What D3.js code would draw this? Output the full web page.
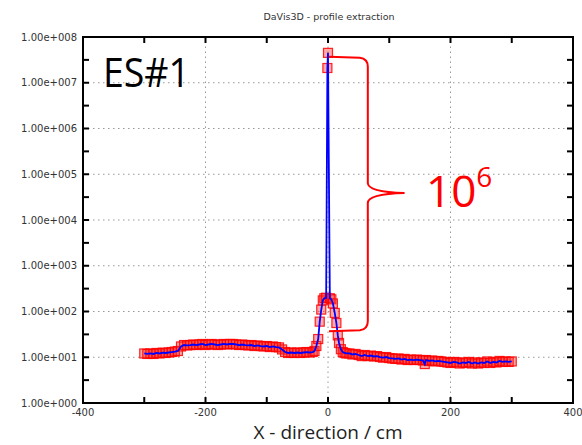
<!DOCTYPE html>
<html lang="en">
<head>
    <meta charset="UTF-8">
    <title>DaVis3D - profile extraction</title>
    <script src="https://d3js.org/d3.v7.min.js"></script>
    <style>
        * { margin: 0; padding: 0; box-sizing: border-box; }
        body { background: #fff; font-family: "DejaVu Sans", sans-serif; }
        .grid line { stroke: #999; stroke-width: 1; stroke-dasharray: 1.5 3.5; }
        .frame { fill: none; stroke: #000; stroke-width: 2; }
        .tick-label { font-size: 10px; fill: #333; }
    </style>
</head>
<body>
    <svg id="chart" width="582" height="445"></svg>
    <script>
        // profile position (cm)
        const positions = [
            -300, -295, -290, -285, -280, -275, -270, -265, -260, -255, -250, -245,
            -240, -235, -230, -225, -220, -215, -210, -205, -200, -195, -190, -185,
            -180, -175, -170, -165, -160, -155, -150, -145, -140, -135, -130, -125,
            -120, -115, -110, -105, -100, -95, -90, -85, -80, -75, -70, -65,
            -60, -55, -50, -45, -40, -35, -30, -25, -22, -19, -16, -13.5,
            -11, -8.5, -6, -3, -1, 0, 3, 5.5, 8, 11, 13.7, 16,
            18, 21, 24, 27, 30, 35, 40, 45, 50, 55, 60, 65,
            70, 75, 80, 85, 90, 95, 100, 105, 110, 115, 120, 125,
            130, 135, 140, 145, 150, 155, 158, 160, 165, 170, 175, 180,
            185, 190, 195, 200, 205, 210, 215, 220, 225, 230, 235, 240,
            245, 250, 255, 260, 265, 270, 275, 280, 285, 290, 295, 300
        ];
        // intensity (counts)
        const intensity = [
            12.1, 11.8, 12.1, 11.8, 12.4, 12.1, 12.6, 12.4, 12.7, 13.0, 13.3, 13.7,
            17.2, 18.5, 18.1, 18.5, 19.0, 18.5, 19.0, 19.5, 18.5, 19.0, 19.5, 19.0,
            18.5, 19.0, 19.5, 19.0, 19.5, 19.5, 19.0, 18.5, 19.0, 18.5, 18.1, 18.5,
            17.6, 18.1, 17.6, 17.2, 17.6, 16.7, 17.2, 16.7, 16.4, 14.8, 13.0, 12.4,
            12.7, 12.4, 12.7, 12.4, 12.7, 13.0, 12.7, 13.0, 13.7, 17.6, 25, 60,
            110, 175, 195, 200, 2.1e7, 4.5e7, 195, 185, 150, 93, 56, 30,
            20.5, 15, 13, 12.4, 12.1, 12.1, 11.5, 11.8, 11.2, 10.6, 11.2, 10.6,
            10.9, 10.4, 10.6, 10.1, 9.8, 10.1, 9.6, 9.4, 9.2, 9.4, 8.9, 9.2,
            8.7, 8.9, 8.7, 8.9, 8.7, 8.5, 7.1, 8.7, 8.3, 8.5, 8.1, 8.3,
            8.1, 7.9, 7.7, 7.5, 7.9, 7.7, 7.3, 7.7, 7.5, 7.9, 7.3, 7.7,
            7.3, 7.7, 7.5, 8.1, 7.5, 7.9, 7.7, 8.3, 7.9, 8.1, 7.9, 8.1
        ];

        const xTicks = [-400, -300, -200, -100, 0, 100, 200, 300, 400];
        const xTickLabels = [-400, -200, 0, 200, 400];
        const xGrid = [-200, 0, 200];
        const yDecades = [1e0, 1e1, 1e2, 1e3, 1e4, 1e5, 1e6, 1e7, 1e8];
        const yTickLabels = ["1.00e+000", "1.00e+001", "1.00e+002", "1.00e+003", "1.00e+004",
                             "1.00e+005", "1.00e+006", "1.00e+007", "1.00e+008"];
        const yGrid = [1e1, 1e2, 1e3, 1e4, 1e5, 1e6, 1e7];

        const data = positions.map((p, i) => ({ x: p, y: intensity[i] }));

        const svg = d3.select("#chart");
        const margin = { top: 37, right: 9, bottom: 42, left: 83 };
        const W = 582, H = 445;

        const x = d3.scaleLinear().domain([-400, 400]).range([margin.left, W - margin.right]);
        const y = d3.scaleLog().domain([1, 1e8]).range([H - margin.bottom, margin.top]);

        // title
        svg.append("text")
            .attr("x", x(0) + 1).attr("y", 20)
            .attr("text-anchor", "middle")
            .attr("font-size", 9.5).attr("fill", "#333")
            .text("DaVis3D - profile extraction");

        // grid
        const grid = svg.append("g").attr("class", "grid");
        grid.selectAll(".gy").data(yGrid).join("line")
            .attr("x1", x(-400)).attr("x2", x(400))
            .attr("y1", d => y(d)).attr("y2", d => y(d));
        grid.selectAll(".gx").data(xGrid).join("line")
            .attr("class", "gx")
            .attr("x1", d => x(d)).attr("x2", d => x(d))
            .attr("y1", y(1)).attr("y2", y(1e8));

        // ticks (inward) on all four sides
        const tk = svg.append("g").attr("stroke", "#000").attr("stroke-width", 2);
        tk.selectAll(".tb").data(xTicks).join("line").attr("class", "tb")
            .attr("x1", d => x(d)).attr("x2", d => x(d))
            .attr("y1", y(1)).attr("y2", y(1) - 6);
        tk.selectAll(".tt").data(xTicks).join("line").attr("class", "tt")
            .attr("x1", d => x(d)).attr("x2", d => x(d))
            .attr("y1", y(1e8)).attr("y2", y(1e8) + 6);
        const yMinor = yDecades.slice(0, -1).map(d => d * Math.sqrt(10));
        const yAll = yDecades.concat(yMinor);
        tk.selectAll(".tl").data(yAll).join("line").attr("class", "tl")
            .attr("x1", x(-400)).attr("x2", x(-400) + 6)
            .attr("y1", d => y(d)).attr("y2", d => y(d));
        tk.selectAll(".tr").data(yAll).join("line").attr("class", "tr")
            .attr("x1", x(400)).attr("x2", x(400) - 6)
            .attr("y1", d => y(d)).attr("y2", d => y(d));

        // frame
        svg.append("rect").attr("class", "frame")
            .attr("x", x(-400)).attr("y", y(1e8))
            .attr("width", x(400) - x(-400)).attr("height", y(1) - y(1e8));

        // tick labels
        svg.selectAll(".xl").data(xTickLabels).join("text")
            .attr("class", "tick-label")
            .attr("x", d => x(d)).attr("y", y(1) + 13)
            .attr("text-anchor", "middle")
            .text(d => d);
        svg.selectAll(".yl").data(yDecades).join("text")
            .attr("class", "tick-label")
            .attr("x", x(-400) - 6).attr("y", d => y(d) + 3.5)
            .attr("text-anchor", "end")
            .text((d, i) => yTickLabels[i]);

        // markers
        svg.append("g").selectAll("rect").data(data).join("rect")
            .attr("x", d => x(d.x) - 4.5).attr("y", d => y(d.y) - 4.5)
            .attr("width", 9).attr("height", 9)
            .attr("fill", "rgba(255,40,40,0.4)")
            .attr("stroke", "rgba(255,0,0,0.85)")
            .attr("stroke-width", 1.2);

        // profile line
        svg.append("path").datum(data)
            .attr("fill", "none").attr("stroke", "#0000ff").attr("stroke-width", 1.8)
            .attr("d", d3.line().x(d => x(d.x)).y(d => y(d.y)));

        // brace marking the peak-to-shoulder ratio
        const bx = x(0) + 1, bv = x(65), tipX = x(125);
        const yt = y(4.5e7) + 4, yb = y(37), ym = y(3.9e4);
        const brace = d3.path();
        brace.moveTo(bx, yt);
        brace.lineTo(bv - 8, yt + 1);
        brace.quadraticCurveTo(bv, yt + 2, bv, yt + 10);
        brace.lineTo(bv, ym - 10);
        brace.quadraticCurveTo(bv, ym - 1, tipX, ym);
        brace.quadraticCurveTo(bv, ym + 1, bv, ym + 10);
        brace.lineTo(bv, yb - 10);
        brace.quadraticCurveTo(bv, yb - 2, bv - 8, yb - 1);
        brace.lineTo(bx, yb);
        svg.append("path").attr("d", brace.toString())
            .attr("fill", "none").attr("stroke", "#ff0000").attr("stroke-width", 2);

        // annotations
        const ann = svg.append("text")
            .attr("x", x(160)).attr("y", y(3.9e4) + 14)
            .attr("font-family", "'Open Sans', sans-serif")
            .attr("font-size", 44).attr("fill", "#ff0000");
        ann.append("tspan").text("10");
        ann.append("tspan").attr("font-size", 28).attr("dy", -20).text("6");

        svg.append("text")
            .attr("x", 103).attr("y", 87)
            .attr("font-family", "'Open Sans', sans-serif")
            .attr("font-size", 40).attr("fill", "#000")
            .attr("textLength", 87).attr("lengthAdjust", "spacingAndGlyphs")
            .text("ES#1");

        // axis title
        svg.append("text")
            .attr("x", x(0)).attr("y", 439)
            .attr("text-anchor", "middle")
            .attr("font-family", "'Open Sans', sans-serif")
            .attr("font-size", 19).attr("fill", "#222")
            .text("X - direction / cm");
    </script>
</body>
</html>
